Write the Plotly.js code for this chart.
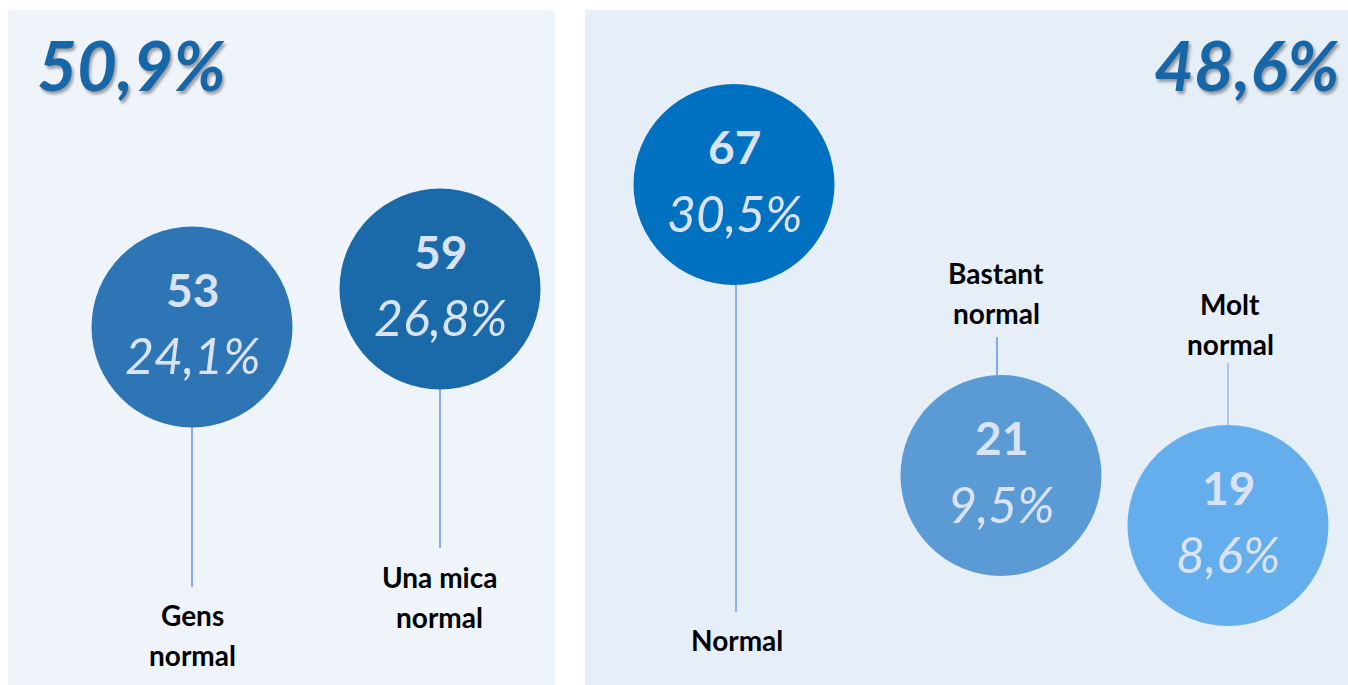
<!DOCTYPE html>
<html>
<head>
<meta charset="utf-8">
<script src="https://cdn.plot.ly/plotly-3.0.1.min.js"></script>
<style>html,body{margin:0;padding:0;background:#fff;}#chart{width:1348px;height:685px;}</style>
</head>
<body>
<div id="chart"></div>
<script>
// ---- data ----
const categories = ['Gens normal', 'Una mica normal', 'Normal', 'Bastant normal', 'Molt normal'];
const counts = [53, 59, 67, 21, 19];
const percents = ['24,1%', '26,8%', '30,5%', '9,5%', '8,6%'];
const groupTotals = ['50,9%', '48,6%'];

// ---- layout (positions in pixel units of the canvas) ----
const bubbleX = [192, 440, 734, 1001, 1228];
const bubbleY = [327, 289, 184.5, 475.5, 525.5];
const bubbleColors = ['#2E75B6', '#1A69A8', '#0070C0', '#5B9BD5', '#64AEEE'];
const labelX = [192, 439, 737, 996, 1230];
const labelY = [615, 577, 640, 272.5, 304];
const connY0 = [424, 386, 282, 337, 363];
const connY1 = [587, 548, 612, 378, 428];
const connX = [192, 440, 736, 997, 1228];
const connColors = ['#4A7CCF', '#4A7CCF', '#5B87D8', '#4A7CCF', '#8EA9DE'];

const FONT = 'Lato, "Open Sans", sans-serif';
const textCol = '#DAE3F3';

const traces = [];
// connector lines
for (let i = 0; i < categories.length; i++) {
  traces.push({
    type: 'scatter', mode: 'lines',
    x: [connX[i], connX[i]], y: [connY0[i], connY1[i]],
    line: {color: connColors[i], width: 1.2},
    hoverinfo: 'skip', showlegend: false
  });
}
// bubbles
traces.push({
  type: 'scatter', mode: 'markers',
  x: bubbleX, y: bubbleY,
  text: categories,
  marker: {size: 201, color: bubbleColors, line: {width: 0}, opacity: 1},
  hoverinfo: 'text', showlegend: false
});

const annotations = [];
for (let i = 0; i < categories.length; i++) {
  annotations.push({
    x: bubbleX[i], y: bubbleY[i] - 38, xref: 'x', yref: 'y',
    text: '<b>' + counts[i] + '</b>', showarrow: false,
    xanchor: 'center', yanchor: 'middle',
    font: {family: FONT, size: 46, color: textCol}
  });
  annotations.push({
    x: bubbleX[i], y: bubbleY[i] + 28, xref: 'x', yref: 'y',
    text: '<i>' + percents[i] + '</i>', showarrow: false,
    xanchor: 'center', yanchor: 'middle',
    font: {family: FONT, size: 50, color: textCol}
  });
  const c = categories[i];
  const k = c.lastIndexOf(' ');
  const lines = k < 0 ? [c] : [c.slice(0, k), c.slice(k + 1)];
  lines.forEach((ln, j) => {
    annotations.push({
      x: labelX[i], y: labelY[i] + j * 40, xref: 'x', yref: 'y',
      text: '<b>' + ln + '</b>', showarrow: false,
      xanchor: 'center', yanchor: 'middle',
      font: {family: FONT, size: 28, color: '#000000'}
    });
  });
}
// group totals
const totalX = [35, 1342];
const totalAnchor = ['left', 'right'];
groupTotals.forEach((t, i) => {
  annotations.push({
    x: totalX[i], y: 64, xref: 'x', yref: 'y',
    text: '<b><i>' + t + '</i></b>', showarrow: false,
    xanchor: totalAnchor[i], yanchor: 'middle',
    font: {family: FONT, size: 69, color: '#1767A8', shadow: '2px 3px 3px rgba(0,0,0,0.35)'}
  });
});

const layout = {
  width: 1348, height: 685,
  margin: {l: 0, r: 0, t: 0, b: 0, pad: 0},
  paper_bgcolor: '#FFFFFF', plot_bgcolor: 'rgba(0,0,0,0)',
  showlegend: false,
  xaxis: {range: [0, 1348], visible: false, fixedrange: true},
  yaxis: {range: [685, 0], visible: false, fixedrange: true},
  shapes: [
    {type: 'rect', xref: 'x', yref: 'y', x0: 8, x1: 555, y0: 10, y1: 685, fillcolor: '#EFF4FB', line: {width: 0}, layer: 'below'},
    {type: 'rect', xref: 'x', yref: 'y', x0: 585, x1: 1348, y0: 10, y1: 685, fillcolor: '#E6EEF8', line: {width: 0}, layer: 'below'}
  ],
  annotations: annotations
};

Plotly.newPlot('chart', traces, layout, {displayModeBar: false, staticPlot: true});
</script>
</body>
</html>
